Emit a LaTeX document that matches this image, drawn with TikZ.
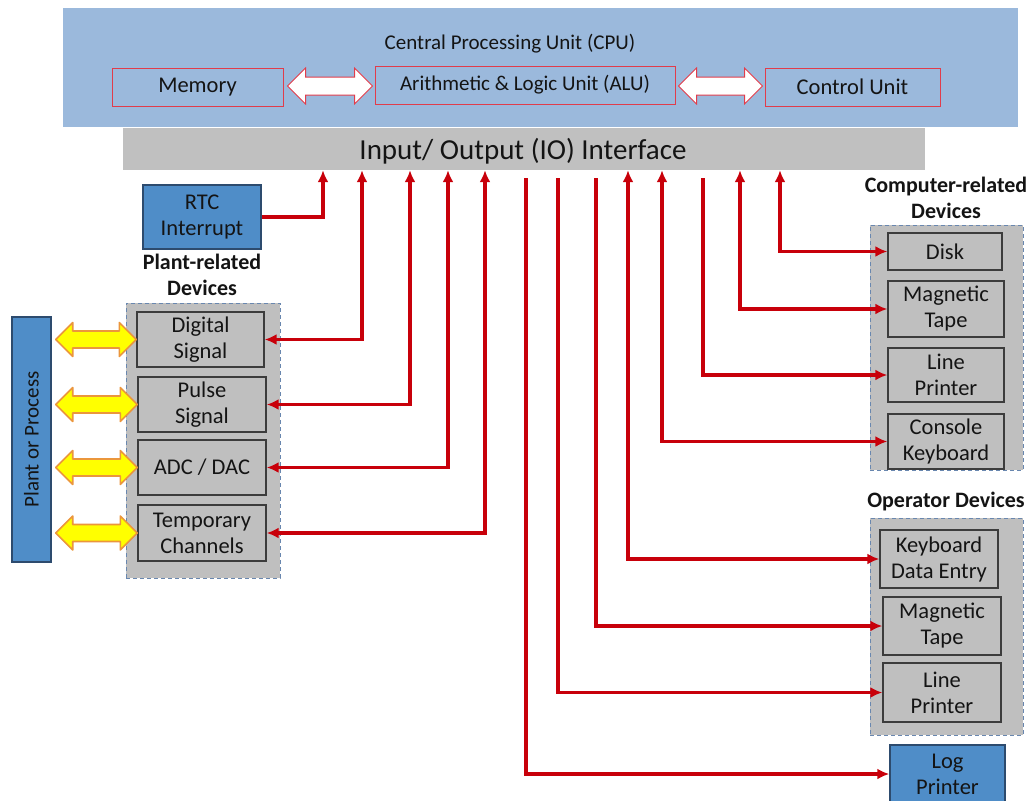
\documentclass[tikz,border=0pt]{standalone}
\usepackage{fontspec}
\setmainfont{Carlito}
\usetikzlibrary{arrows.meta,calc}
\definecolor{cpublue}{RGB}{155,185,220}
\definecolor{boxred}{RGB}{225,60,75}
\definecolor{iogray}{RGB}{192,192,192}
\definecolor{devgray}{RGB}{191,191,191}
\definecolor{devline}{RGB}{60,60,60}
\definecolor{contline}{RGB}{105,135,175}
\definecolor{bluebox}{RGB}{79,141,200}
\definecolor{blueline}{RGB}{45,75,110}
\definecolor{connred}{RGB}{200,0,10}
\definecolor{txt}{RGB}{20,20,20}
\definecolor{fatyellow}{RGB}{255,255,0}
\definecolor{fatorange}{RGB}{235,150,60}
\newcommand{\myfatarrow}[6]{%
  \path[#1] let \p1=#2, \p2=#3 in
   (\x1,\y2) -- (\x1+#6,\y2+#4) -- (\x1+#6,\y2+#5) -- (\x2-#6,\y2+#5) -- (\x2-#6,\y2+#4) -- (\x2,\y2)
   -- (\x2-#6,\y2-#4) -- (\x2-#6,\y2-#5) -- (\x1+#6,\y2-#5) -- (\x1+#6,\y2-#4) -- cycle;}
\begin{document}
\begin{tikzpicture}[x=1pt,y=-1pt,
  every node/.style={text=txt, inner sep=0pt},
  cpubox/.style={fill=cpublue, draw=none},
  unitbox/.style={fill=cpublue, draw=boxred, line width=1pt, font=\fontsize{22.5}{26}\selectfont},
  iobox/.style={fill=iogray, draw=none, font=\fontsize{29}{32}\selectfont},
  devbox/.style={fill=devgray, draw=devline, line width=1.4pt, align=center, font=\fontsize{22.5}{26}\selectfont},
  contbox/.style={fill=devgray, draw=contline, line width=1pt, dash pattern=on 4pt off 3pt},
  bluedev/.style={fill=bluebox, draw=blueline, line width=1.5pt, align=center, font=\fontsize{22.5}{26}\selectfont},
  grplabel/.style={align=center, font=\bfseries\fontsize{22}{26}\selectfont},
  conn/.style={draw=connred, line width=3.2pt},
  >={Latex[length=12pt,width=11pt]},
  hollow/.style={draw=boxred, line width=1pt, fill=white},
  fat/.style={draw=fatorange, line width=1.6pt, fill=fatyellow, line join=round}
]
\useasboundingbox (0,0) rectangle (1035,800);
\fill[white] (0,0) rectangle (1035,800);

% CPU
\node[cpubox, minimum width=955, minimum height=119] (cpu) at (540.5,67.5) {};
\node[font=\fontsize{21}{24}\selectfont] (cputitle) at (510,44) {Central Processing Unit (CPU)};
\node[unitbox, minimum width=171, minimum height=38] (mem) at (197.5,87) {Memory};
\node[unitbox, minimum width=300, minimum height=38, font=\fontsize{21}{24}\selectfont] (alu) at (525,85) {Arithmetic \& Logic Unit (ALU)};
\node[unitbox, minimum width=175, minimum height=38] (ctrl) at (852.5,87) {Control Unit};
\myfatarrow{hollow}{($(mem.east)+(4,0)$)}{($(alu.west)+(-2,1)$)}{18pt}{9pt}{18pt}
\myfatarrow{hollow}{($(alu.east)+(3,0)$)}{($(ctrl.west)+(-2,-1)$)}{18pt}{9pt}{18pt}

% IO
\node[iobox, minimum width=802, minimum height=42] (io) at (524,149) {};
\node[font=\fontsize{29}{32}\selectfont] (iotext) at (523,151) {Input/ Output (IO) Interface};

% plant side
\node[bluedev, minimum width=118, minimum height=64] (rtc) at (202,217) {RTC\\Interrupt};
\node[grplabel] (plantlbl) at (202,275) {Plant-related\\Devices};
\node[contbox, minimum width=154, minimum height=275] (plantgrp) at (203,440.5) {};
\node[devbox, minimum width=127, minimum height=55] (dig) at (200.5,339.5) {Digital\\Signal};
\node[devbox, minimum width=128, minimum height=55] (pulse) at (202,404.5) {Pulse\\Signal};
\node[devbox, minimum width=128, minimum height=55] (adc) at (202,467.5) {ADC / DAC};
\node[devbox, minimum width=128, minimum height=56] (temp) at (202,533) {Temporary\\Channels};
\node[bluedev, rotate=90, minimum width=245, minimum height=39, font=\fontsize{21}{24}\selectfont] (plant) at (31.5,439.5) {Plant or Process};

\myfatarrow{fat}{($(plant.south)+(4,0)$)}{(dig.west)}{17pt}{8.5pt}{17pt}
\myfatarrow{fat}{($(plant.south)+(4,0)$)}{(pulse.west)}{17pt}{8.5pt}{17pt}
\myfatarrow{fat}{($(plant.south)+(4,0)$)}{(adc.west)}{17pt}{8.5pt}{17pt}
\myfatarrow{fat}{($(plant.south)+(4,0)$)}{(temp.west)}{17pt}{8.5pt}{17pt}

% computer-related
\node[grplabel] (complbl) at (946,198) {Computer-related\\Devices};
\node[contbox, minimum width=153, minimum height=245] (compgrp) at (946.5,347.5) {};
\node[devbox, minimum width=114, minimum height=37] (disk) at (945,251.5) {Disk};
\node[devbox, minimum width=116, minimum height=56] (mtc) at (946,309) {Magnetic\\Tape};
\node[devbox, minimum width=116, minimum height=54] (lpc) at (946,375) {Line\\Printer};
\node[devbox, minimum width=116, minimum height=55] (ck) at (946,441.5) {Console\\Keyboard};

% operator
\node[grplabel] (oplbl) at (946,502) {Operator Devices};
\node[contbox, minimum width=153, minimum height=217] (opgrp) at (946.5,626.5) {};
\node[devbox, minimum width=118, minimum height=58] (kde) at (939,559) {Keyboard\\Data Entry};
\node[devbox, minimum width=118, minimum height=58] (mto) at (942,626) {Magnetic\\Tape};
\node[devbox, minimum width=118, minimum height=59] (lpo) at (942,692.5) {Line\\Printer};
\node[bluedev, minimum width=115, minimum height=58] (log) at (947.5,774) {Log\\Printer};

% bus columns
\coordinate (c1) at (323,0);
\coordinate (c2) at (362,0);
\coordinate (c3) at (410,0);
\coordinate (c4) at (448,0);
\coordinate (c5) at (485,0);
\coordinate (c6) at (526,0);
\coordinate (c7) at (558,0);
\coordinate (c8) at (596,0);
\coordinate (c9) at (628,0);
\coordinate (c10) at (662,0);
\coordinate (c11) at (703,0);
\coordinate (c12) at (740,0);
\coordinate (c13) at (780,0);

\draw[conn,->] (rtc.east) -| (io.south -| c1);
\draw[conn,<->] (io.south -| c2) |- (dig.east);
\draw[conn,<->] (io.south -| c3) |- (pulse.east);
\draw[conn,<->] (io.south -| c4) |- (adc.east);
\draw[conn,<->] (io.south -| c5) |- (temp.east);
\draw[conn,->] ($(io.south -| c6)+(0,8)$) |- (log.west);
\draw[conn,->] ($(io.south -| c7)+(0,8)$) |- (lpo.west);
\draw[conn,->] ($(io.south -| c8)+(0,8)$) |- (mto.west);
\draw[conn,<->] (io.south -| c9) |- (kde.west);
\draw[conn,<->] (io.south -| c10) |- (ck.west);
\draw[conn,->] ($(io.south -| c11)+(0,8)$) |- (lpc.west);
\draw[conn,<->] (io.south -| c12) |- (mtc.west);
\draw[conn,<->] (io.south -| c13) |- (disk.west);
\end{tikzpicture}
\end{document}
